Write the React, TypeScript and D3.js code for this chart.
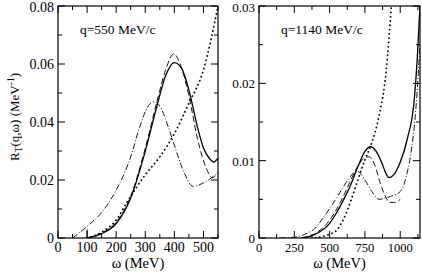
import React, { useRef, useEffect } from 'react';
import * as d3 from 'd3';

// ---- q = 550 MeV/c panel: [omega (MeV), R_T (MeV^-1)]
const leftSolid: [number, number][] = [
  [100, 0], [150, 0.0015], [200, 0.005], [250, 0.0138], [300, 0.03], [340, 0.0455],
  [370, 0.056], [400, 0.0605], [425, 0.0585], [450, 0.051], [480, 0.038], [500, 0.031],
  [520, 0.0275], [535, 0.0262], [550, 0.0275],
];
const leftDashed: [number, number][] = [
  [100, 0], [150, 0.0017], [200, 0.0055], [250, 0.0145], [300, 0.031], [340, 0.047],
  [370, 0.058], [398, 0.0635], [420, 0.06], [450, 0.049], [480, 0.034], [510, 0.024],
  [530, 0.0208], [550, 0.0225],
];
const leftDashDot: [number, number][] = [
  [50, 0], [100, 0.004], [150, 0.0088], [200, 0.0165], [250, 0.028], [280, 0.038],
  [310, 0.0455], [330, 0.047], [350, 0.0455], [380, 0.038], [405, 0.0305], [435, 0.0222],
  [465, 0.0178], [500, 0.019], [550, 0.0225],
];
const leftDotted: [number, number][] = [
  [100, 0], [150, 0.002], [200, 0.0062], [240, 0.0128], [300, 0.0218], [350, 0.028],
  [400, 0.036], [450, 0.0465], [500, 0.058], [525, 0.068], [550, 0.08],
];
const leftMark: [number, number][] = [[100, 0], [100, 0.003]];

// ---- q = 1140 MeV/c panel
const rightSolid: [number, number][] = [
  [300, 0], [400, 0.0005], [500, 0.0019], [550, 0.0033], [600, 0.005], [650, 0.0069],
  [700, 0.0092], [750, 0.0112], [790, 0.0118], [830, 0.0112], [870, 0.0097], [900, 0.0083],
  [920, 0.0078], [950, 0.0081], [1000, 0.0098], [1050, 0.0128], [1100, 0.018],
  [1120, 0.023], [1140, 0.03],
];
const rightDashed: [number, number][] = [
  [300, 0], [400, 0.0006], [500, 0.0023], [600, 0.0055], [650, 0.0075], [700, 0.0093],
  [750, 0.0104], [780, 0.0105], [820, 0.0094], [860, 0.007], [900, 0.0052], [925, 0.0046],
  [960, 0.0046], [1000, 0.005],
];
const rightDashDot: [number, number][] = [
  [150, 0], [250, 0.0001], [350, 0.0007], [400, 0.0013], [450, 0.0025], [500, 0.0038],
  [550, 0.0052], [600, 0.0067], [650, 0.008], [690, 0.0087], [720, 0.0083], [760, 0.0072],
  [800, 0.006], [850, 0.005], [900, 0.0052], [950, 0.0055], [1000, 0.006], [1050, 0.0085],
  [1080, 0.0115], [1100, 0.0145], [1120, 0.019], [1140, 0.025],
];
const rightDotted: [number, number][] = [
  [400, 0], [450, 0.0002], [500, 0.0005], [550, 0.001], [600, 0.0025], [650, 0.0048],
  [700, 0.0075], [750, 0.0101], [800, 0.0124], [850, 0.0158], [900, 0.0215], [937, 0.03],
];

const leftXTicks = [0, 100, 200, 300, 400, 500];
const leftYTicks = [0, 0.02, 0.04, 0.06, 0.08];
const rightXTicks = [0, 250, 500, 750, 1000];
const rightYTicks = [0, 0.01, 0.02, 0.03];

const FONT = "'Liberation Serif', 'Times New Roman', Times, serif";

type Panel = {
  x0: number; x1: number; xMax: number; yMax: number;
  xTicks: number[]; yTicks: number[]; xMinor: number; yMinor: number;
  xFont: number; yFont: number;
  label: string; series: { pts: [number, number][]; dash: string; w: number; cap?: string }[];
};

const App = () => {
  const svgRef = useRef<SVGSVGElement>(null);

  useEffect(() => {
    const svg = d3.select(svgRef.current);
    svg.selectAll('*').remove();
    const top = 6, bottom = 238;
    const yFmt = (v: number) => (v === 0 ? '0' : d3.format('.2f')(v));

    const panels: Panel[] = [
      {
        x0: 58, x1: 218, xMax: 550, yMax: 0.08, xTicks: leftXTicks, yTicks: leftYTicks,
        xMinor: 50, yMinor: 0.01, xFont: 14, yFont: 14,
        label: 'q=550 MeV/c',
        series: [
          { pts: leftDotted, dash: '0.1,4.2', w: 1.8, cap: 'round' },
          { pts: leftDashDot, dash: '6,2,1,2', w: 0.9 },
          { pts: leftDashed, dash: '6,3', w: 0.9 },
          { pts: leftSolid, dash: '', w: 1.3 },
          { pts: leftMark, dash: '', w: 1 },
        ],
      },
      {
        x0: 259, x1: 420, xMax: 1140, yMax: 0.03, xTicks: rightXTicks, yTicks: rightYTicks,
        xMinor: 125, yMinor: 0.005, xFont: 12.5, yFont: 13,
        label: 'q=1140 MeV/c',
        series: [
          { pts: rightDotted, dash: '0.1,4.2', w: 1.8, cap: 'round' },
          { pts: rightDashDot, dash: '6,2,1,2', w: 0.9 },
          { pts: rightDashed, dash: '6,3', w: 0.9 },
          { pts: rightSolid, dash: '', w: 1.3 },
        ],
      },
    ];

    panels.forEach(p => {
      const x = d3.scaleLinear().domain([0, p.xMax]).range([p.x0, p.x1]);
      const y = d3.scaleLinear().domain([0, p.yMax]).range([bottom, top]);
      const g = svg.append('g');

      const clipId = `clip${p.x0}`;
      svg.append('clipPath').attr('id', clipId)
        .append('rect').attr('x', p.x0).attr('y', top).attr('width', p.x1 - p.x0).attr('height', bottom - top);

      const smooth = d3.line<[number, number]>()
        .x(d => x(d[0])).y(d => y(d[1]))
        .curve(d3.curveMonotoneX);
      const straight = d3.line<[number, number]>().x(d => x(d[0])).y(d => y(d[1]));

      const curves = g.append('g').attr('clip-path', `url(#${clipId})`);
      p.series.forEach(s => {
        curves.append('path')
          .attr('d', s.pts[0][0] === s.pts[1][0] ? straight(s.pts) : smooth(s.pts))
          .attr('fill', 'none')
          .attr('stroke', 'black')
          .attr('stroke-width', s.w)
          .attr('stroke-dasharray', s.dash || null)
          .attr('stroke-linecap', s.cap || 'butt');
      });

      // ticks, inward on all four sides
      const xAll = d3.range(0, p.xMax + 1e-9, p.xMinor);
      const yAll = d3.range(0, p.yMax + 1e-9, p.yMinor);
      const isMajorX = (v: number) => p.xTicks.some(t => Math.abs(t - v) < 1e-6);
      const isMajorY = (v: number) => p.yTicks.some(t => Math.abs(t - v) < 1e-9);
      xAll.forEach(v => {
        const len = isMajorX(v) ? 7 : 4;
        g.append('line').attr('x1', x(v)).attr('x2', x(v)).attr('y1', bottom).attr('y2', bottom - len)
          .attr('stroke', 'black').attr('stroke-width', 1);
        g.append('line').attr('x1', x(v)).attr('x2', x(v)).attr('y1', top).attr('y2', top + len)
          .attr('stroke', 'black').attr('stroke-width', 1);
      });
      yAll.forEach(v => {
        const len = isMajorY(v) ? 7 : 4;
        g.append('line').attr('x1', p.x0).attr('x2', p.x0 + len).attr('y1', y(v)).attr('y2', y(v))
          .attr('stroke', 'black').attr('stroke-width', 1);
        g.append('line').attr('x1', p.x1).attr('x2', p.x1 - len).attr('y1', y(v)).attr('y2', y(v))
          .attr('stroke', 'black').attr('stroke-width', 1);
      });

      g.append('rect').attr('x', p.x0).attr('y', top).attr('width', p.x1 - p.x0).attr('height', bottom - top)
        .attr('fill', 'none').attr('stroke', 'black').attr('stroke-width', 1.2);

      g.selectAll('.xl').data(p.xTicks).join('text')
        .attr('x', d => x(d)).attr('y', 252)
        .attr('text-anchor', 'middle').attr('font-family', FONT).attr('font-size', p.xFont)
        .text(d => String(d));
      g.selectAll('.yl').data(p.yTicks).join('text')
        .attr('x', p.x0 - 4).attr('y', d => y(d) + (d === p.yMax ? 6 : 5))
        .attr('text-anchor', 'end').attr('font-family', FONT).attr('font-size', p.yFont)
        .text(d => yFmt(d));

      g.append('text')
        .attr('x', (p.x0 + p.x1) / 2).attr('y', 268)
        .attr('text-anchor', 'middle').attr('font-family', FONT).attr('font-size', 14.5)
        .text('ω (MeV)');

      g.append('text')
        .attr('x', p.x0 + 22).attr('y', 34)
        .attr('font-family', FONT).attr('font-size', 13.5)
        .text(p.label);
    });

    // y axis title
    const yt = svg.append('text')
      .attr('transform', 'translate(19,117) rotate(-90)')
      .attr('text-anchor', 'middle').attr('font-family', FONT).attr('font-size', 13);
    yt.append('tspan').text('R');
    yt.append('tspan').attr('font-size', 9.5).attr('dy', 3).text('T');
    yt.append('tspan').attr('dy', -3).text('(q,ω) (MeV');
    yt.append('tspan').attr('font-size', 9.5).attr('dy', -5).text('-1');
    yt.append('tspan').attr('dy', 5).text(')');
  }, []);

  return (
    <svg ref={svgRef} width={422} height={273}
      style={{ position: 'absolute', left: 0, top: 0, background: 'white' }} />
  );
};

export default App;
